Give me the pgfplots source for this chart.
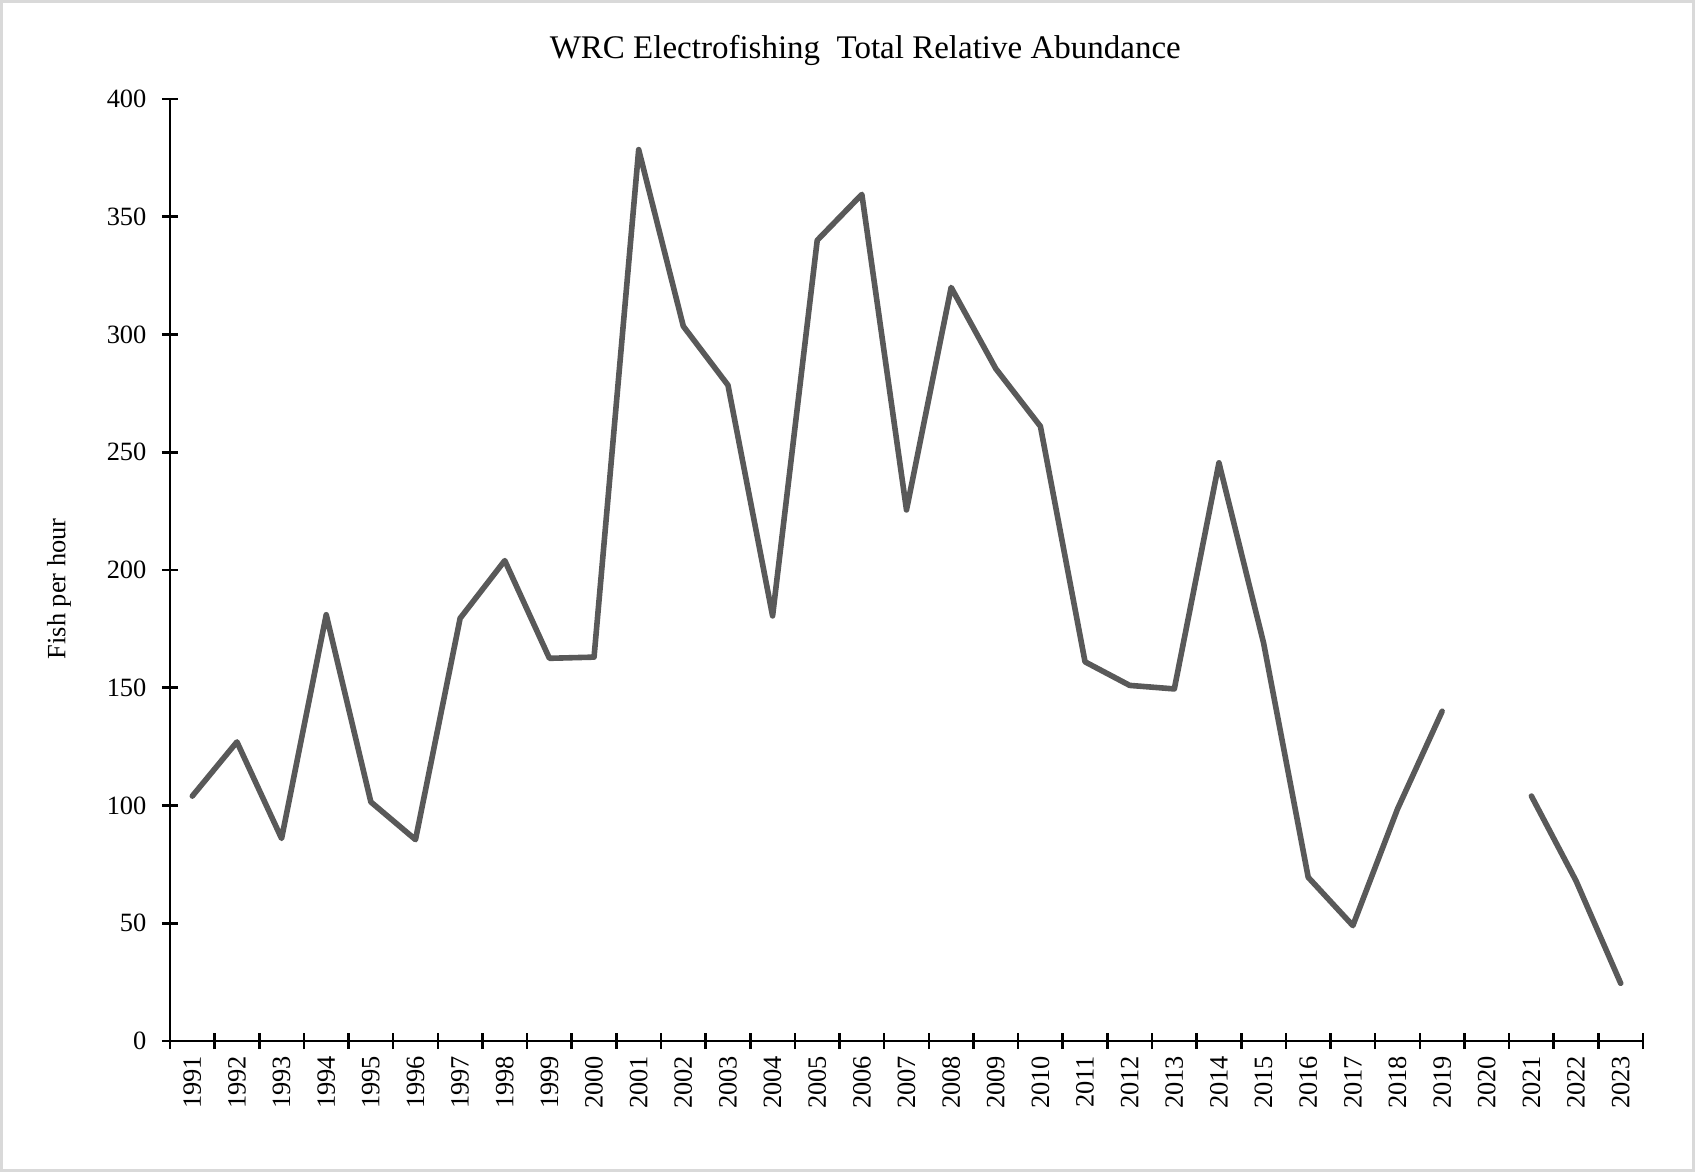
\documentclass[border=0pt]{standalone}
\usepackage{fontspec}
\setmainfont{Liberation Serif}
\usepackage{pgfplots}
\pgfplotsset{compat=1.18}
\definecolor{linegray}{RGB}{89,89,89}
\definecolor{framegray}{RGB}{217,217,217}
\begin{document}
\begin{tikzpicture}
\path[use as bounding box] (-85bp,-65.5bp) rectangle (762.5bp,520.5bp);
\draw[framegray, line width=1.5bp] (-84.25bp,-64.75bp) rectangle (761.75bp,519.75bp);
\begin{axis}[
  at={(0,0)}, anchor=south west,
  scale only axis, width=736.5bp, height=471bp,
  xmin=-0.5, xmax=32.5, ymin=0, ymax=400,
  axis x line*=bottom, axis y line*=left,
  axis line style={line width=1.3bp, black},
  tick align=center,
  major tick length=8bp, minor tick length=8bp,
  every tick/.style={line width=1.3bp, black},
  ytick={0,50,...,400},
  xtick={0,...,32},
  xticklabels={1991,1992,1993,1994,1995,1996,1997,1998,1999,2000,2001,2002,2003,2004,2005,2006,2007,2008,2009,2010,2011,2012,2013,2014,2015,2016,2017,2018,2019,2020,2021,2022,2023},
  every major x tick/.append style={draw=none},
  minor xtick={-0.5,0.5,1.5,2.5,3.5,4.5,5.5,6.5,7.5,8.5,9.5,10.5,11.5,12.5,13.5,14.5,15.5,16.5,17.5,18.5,19.5,20.5,21.5,22.5,23.5,24.5,25.5,26.5,27.5,28.5,29.5,30.5,31.5,32.5},
  /pgf/number format/assume math mode=true,
  ticklabel style={font=\fontsize{13.2bp}{15bp}\selectfont},
  xticklabel style={rotate=90, anchor=east},
  yticklabel style={anchor=east, xshift=-4.3bp},
  title={WRC Electrofishing\ \ Total Relative Abundance},
  title style={at={(axis description cs:0.472,1.0385)}, anchor=center, font=\fontsize{16.5bp}{19bp}\selectfont},
  ylabel={Fish per hour},
  ylabel style={at={(axis description cs:-0.0754,0.48)}, anchor=center, font=\fontsize{13.2bp}{15bp}\selectfont},
  unbounded coords=jump,
  clip=false,
]
\addplot[linegray, line width=2.8bp, line join=round, line cap=round] table[x=x, y=y] {
x y
0 104
1 127
2 86
3 181
4 101.5
5 85.5
6 179.5
7 204
8 162.5
9 163
10 378.5
11 303.5
12 278.5
13 180.5
14 340
15 359.5
16 225.5
17 320
18 285.5
19 261
20 161
21 151
22 149.5
23 245.5
24 169
25 69.5
26 49
27 98.5
28 140
29 nan
30 104
31 68
32 24.5
};
\end{axis}
\end{tikzpicture}
\end{document}
